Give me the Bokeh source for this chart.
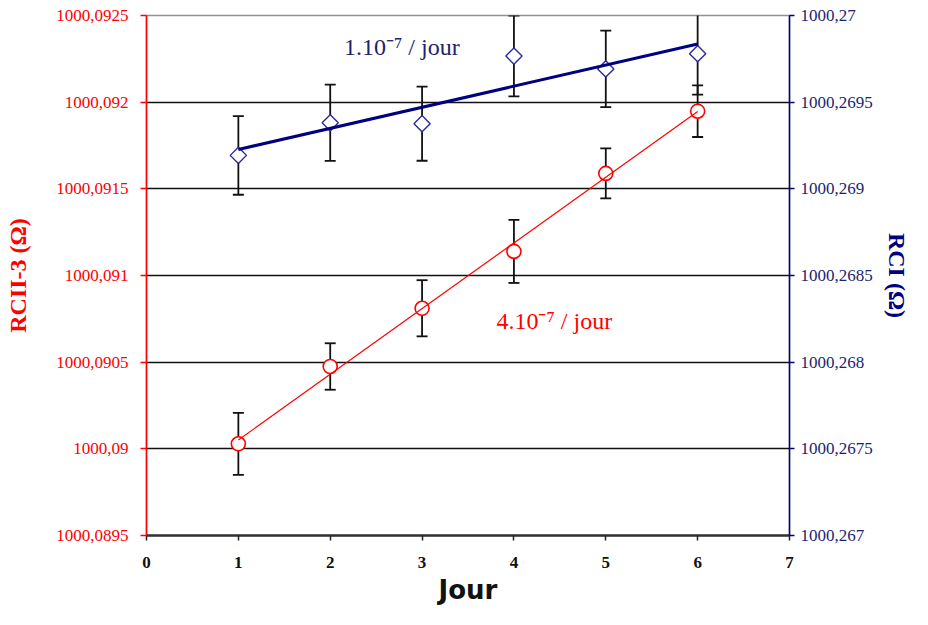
import numpy as np
from bokeh.plotting import figure
from bokeh.models import (Range1d, LinearAxis, FixedTicker, CustomJSTickFormatter,
                          Whisker, TeeHead, ColumnDataSource, Label)
from bokeh.embed import file_html
from bokeh.resources import INLINE

# ---- data ----
days = [1, 2, 3, 4, 5, 6]
rcii3 = [1000.090029, 1000.090475, 1000.090811, 1000.091139, 1000.091589, 1000.091948]
rcii3_err = [0.000179, 0.000134, 0.000162, 0.000182, 0.000144, 0.000149]
rci = [1000.269193, 1000.269381, 1000.269376, 1000.269766, 1000.269692, 1000.269780]
rci_err = [0.000227, 0.000220, 0.000214, 0.000233, 0.000221, 0.000237]

x_ticks = [0, 1, 2, 3, 4, 5, 6, 7]
left_ticks = [1000.0895, 1000.09, 1000.0905, 1000.091, 1000.0915, 1000.092, 1000.0925]
right_ticks = [1000.267, 1000.2675, 1000.268, 1000.2685, 1000.269, 1000.2695, 1000.27]

left_title = "RCII-3 (Ω)"
right_title = "RCI (Ω)"
x_title = "Jour"
rci_rate_text = "1.10⁻⁷ / jour"
rcii3_rate_text = "4.10⁻⁷ / jour"

# trend lines (least squares) over the measured days
a_r, b_r = np.polyfit(days, rcii3, 1)
a_b, b_b = np.polyfit(days, rci, 1)
fit_x = [days[0], days[-1]]
fit_red = [a_r * x + b_r for x in fit_x]
fit_blue = [a_b * x + b_b for x in fit_x]

RED = "#ff0000"
NAVY = "#000080"
NAVY_TXT = "#1c2470"
SERIF = "Liberation Serif"

p = figure(width=912, height=609, output_backend="svg", toolbar_location=None,
           x_range=Range1d(x_ticks[0], x_ticks[-1]),
           y_range=Range1d(left_ticks[0], left_ticks[-1]),
           min_border_left=146, min_border_right=121, min_border_top=15, min_border_bottom=74)
p.extra_y_ranges = {"rci": Range1d(right_ticks[0], right_ticks[-1])}
p.background_fill_color = "white"
p.border_fill_color = "white"
p.outline_line_color = "#909090"
p.outline_line_width = 1.5

fmt = CustomJSTickFormatter(code="""
var s = tick.toFixed(4).replace(/0+$/, '').replace(/\\.$/, '');
return s.replace('.', ',');
""")

# x axis
xa = p.xaxis[0]
xa.ticker = FixedTicker(ticks=x_ticks)
xa.axis_label = x_title
xa.axis_label_text_font = "DejaVu Sans"
xa.axis_label_text_font_style = "bold"
xa.axis_label_text_font_size = "26px"
xa.axis_label_text_color = "#111111"
xa.axis_label_standoff = 4
xa.major_label_text_font = SERIF
xa.major_label_text_font_style = "bold"
xa.major_label_text_font_size = "17px"
xa.major_label_text_color = "#111111"
xa.major_label_standoff = 16
xa.axis_line_color = "#333333"
xa.axis_line_width = 2.5
xa.major_tick_line_color = "#222222"
xa.major_tick_line_width = 1.5
xa.major_tick_out = 5
xa.major_tick_in = 0
xa.minor_tick_line_color = None

# left axis
ya = p.yaxis[0]
ya.ticker = FixedTicker(ticks=left_ticks)
ya.formatter = fmt
ya.axis_label = left_title
ya.axis_label_text_font = SERIF
ya.axis_label_text_font_style = "bold"
ya.axis_label_text_font_size = "24px"
ya.axis_label_text_color = RED
ya.axis_label_standoff = 22
ya.major_label_text_font = SERIF
ya.major_label_text_font_size = "17px"
ya.major_label_text_color = RED
ya.major_label_standoff = 12
ya.axis_line_color = RED
ya.axis_line_width = 1.5
ya.major_tick_line_color = RED
ya.major_tick_line_width = 1.5
ya.major_tick_out = 6
ya.major_tick_in = 0
ya.minor_tick_line_color = None

# right axis
ra = LinearAxis(y_range_name="rci", ticker=FixedTicker(ticks=right_ticks), formatter=fmt,
                axis_label=right_title)
ra.axis_label_text_font = SERIF
ra.axis_label_text_font_style = "bold"
ra.axis_label_text_font_size = "24px"
ra.axis_label_text_color = NAVY
ra.axis_label_standoff = 8
ra.major_label_text_font = SERIF
ra.major_label_text_font_size = "17px"
ra.major_label_text_color = NAVY_TXT
ra.major_label_standoff = 6
ra.axis_line_color = NAVY
ra.axis_line_width = 1.5
ra.major_tick_line_color = NAVY
ra.major_tick_line_width = 1.5
ra.major_tick_out = 5
ra.major_tick_in = 0
ra.minor_tick_line_color = None
p.add_layout(ra, "right")

# grid
p.xgrid.visible = False
p.ygrid.ticker = FixedTicker(ticks=left_ticks[1:-1])
p.ygrid.grid_line_color = "#111111"
p.ygrid.grid_line_width = 1.5

# error bars
src_r = ColumnDataSource(dict(x=days, y=rcii3,
                              lo=[v - e for v, e in zip(rcii3, rcii3_err)],
                              hi=[v + e for v, e in zip(rcii3, rcii3_err)]))
src_b = ColumnDataSource(dict(x=days, y=rci,
                              lo=[v - e for v, e in zip(rci, rci_err)],
                              hi=[v + e for v, e in zip(rci, rci_err)]))

def whisk(src, **kw):
    return Whisker(base="x", lower="lo", upper="hi", source=src,
                   line_color="#111111", line_width=1.8,
                   upper_head=TeeHead(size=11, line_color="#111111", line_width=1.8),
                   lower_head=TeeHead(size=11, line_color="#111111", line_width=1.8), **kw)

p.add_layout(whisk(src_r))
p.add_layout(whisk(src_b, y_range_name="rci"))

# markers
p.scatter("x", "y", source=src_r, marker="circle", size=14, fill_color="white",
          line_color=RED, line_width=1.6)
p.scatter("x", "y", source=src_b, marker="square", angle=np.pi / 4, size=11.5,
          fill_color="white", line_color="#2a2aa0", line_width=1.4, y_range_name="rci")

# trend lines
p.line(fit_x, fit_red, line_color=RED, line_width=1.2)
p.line(fit_x, fit_blue, line_color=NAVY, line_width=3, y_range_name="rci")

# annotations
p.add_layout(Label(x=2.15, y=1000.092321, text=rci_rate_text, text_font=SERIF,
                   text_font_size="24px", text_color=NAVY_TXT, text_baseline="middle",
                   text_align="left"))
p.add_layout(Label(x=3.81, y=1000.09074, text=rcii3_rate_text, text_font=SERIF,
                   text_font_size="24px", text_color=RED, text_baseline="middle",
                   text_align="left"))

open("out.html", "w").write(file_html(p, INLINE))
